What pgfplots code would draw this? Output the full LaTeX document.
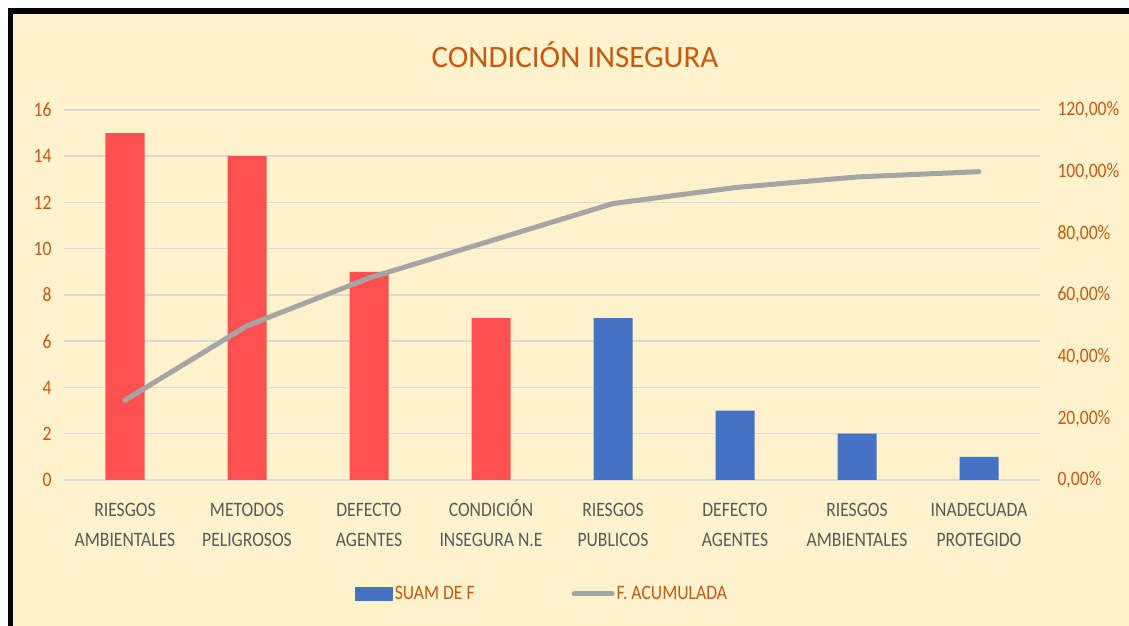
\documentclass[border=0pt]{standalone}
\usepackage{fontspec}
\setmainfont{Carlito}[FakeStretch=0.86]
\newfontfamily\titlefont{Carlito}
\usepackage{pgfplots}
\pgfplotsset{compat=1.18}
\definecolor{bgy}{HTML}{FFF2CC}
\definecolor{orangeT}{HTML}{C55A11}
\definecolor{redB}{HTML}{FF5050}
\definecolor{blueB}{HTML}{4472C4}
\definecolor{grayL}{HTML}{A5A5A5}
\definecolor{gridc}{HTML}{D9D9D9}
\definecolor{labc}{HTML}{595959}
\begin{document}
\begin{tikzpicture}[x=1bp,y=1bp]
\path[use as bounding box] (-64,-146) rectangle (1065,480);
\fill[white] (-64,-146) rectangle (1065,480);
\fill[bgy] (-51,-146) rectangle (1065,466);
\fill[black] (-56,-146) rectangle (-51,472);
\fill[black] (-56,466) rectangle (1065,472);
\node[text=orangeT, font=\titlefont\fontsize{31bp}{36bp}\selectfont] at (511,425) {CONDICIÓN INSEGURA};
\begin{axis}[
  scale only axis, width=976bp, height=370bp,
  xmin=-0.5, xmax=7.5, ymin=0, ymax=16,
  ytick={0,2,...,16},
  xtick={0,...,7},
  xticklabels={{\strut RIESGOS\\AMBIENTALES},{\strut METODOS\\PELIGROSOS},{\strut DEFECTO\\AGENTES},{\strut CONDICIÓN\\INSEGURA N.E},{\strut RIESGOS\\PUBLICOS},{\strut DEFECTO\\AGENTES},{\strut RIESGOS\\AMBIENTALES},{\strut INADECUADA\\PROTEGIDO}},
  axis x line*=bottom, axis y line*=left,
  x axis line style={draw=none}, y axis line style={draw=none},
  major tick length=0pt,
  ymajorgrids, grid style={gridc, line width=1.5bp},
  /pgf/number format/assume math mode=true,
  ticklabel style={font=\fontsize{20.5bp}{30bp}\selectfont},
  yticklabel style={text=orangeT, xshift=-9bp},
  xticklabel style={text=labc, align=center, yshift=-12bp},
  ybar, bar width=39bp,
]
\addplot[fill=redB, draw=none, bar shift=0pt] coordinates {(0,15) (1,14) (2,9) (3,7)};
\addplot[fill=blueB, draw=none, bar shift=0pt] coordinates {(4,7) (5,3) (6,2) (7,1)};
\end{axis}
\begin{axis}[
  scale only axis, width=976bp, height=370bp,
  xmin=-0.5, xmax=7.5, ymin=0, ymax=120,
  axis x line=none, axis y line*=right,
  y axis line style={draw=none},
  major tick length=0pt,
  ytick={0,20,...,120},
  yticklabels={0{,}00\%,20{,}00\%,40{,}00\%,60{,}00\%,80{,}00\%,100{,}00\%,120{,}00\%},
  ticklabel style={font=\fontsize{20.5bp}{24bp}\selectfont},
  yticklabel style={text=orangeT, xshift=14bp},
  legend style={at={(0.49,-0.308)}, anchor=center, draw=none, fill=none,
    font=\fontsize{20.5bp}{24bp}\selectfont, text=orangeT,
    /tikz/every even column/.append style={column sep=95bp},
    inner sep=0pt},
  legend columns=2,
]
\addlegendimage{legend image code/.code={\fill[blueB] (0bp,-6.5bp) rectangle (37bp,6.5bp);}}
\addlegendentry{SUAM DE F}
\addplot[grayL, line width=5bp, line cap=round, line join=round,
  legend image code/.code={\draw[grayL, line width=5bp, line cap=round] (2bp,0bp) -- (40bp,0bp);}]
  coordinates {(0,25.86) (1,50.00) (2,65.52) (3,77.59) (4,89.66) (5,94.83) (6,98.28) (7,100.00)};
\addlegendentry{F. ACUMULADA}
\end{axis}
\end{tikzpicture}
\end{document}
